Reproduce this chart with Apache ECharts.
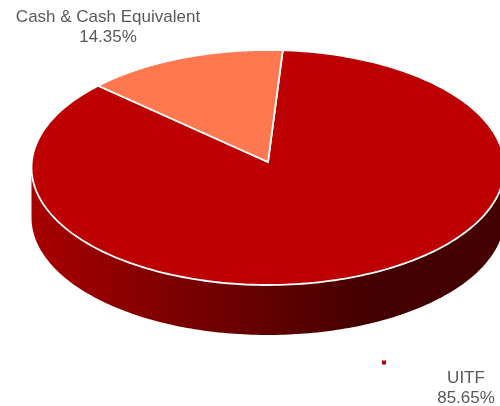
<!DOCTYPE html>
<html>
<head>
<meta charset="utf-8">
<style>html,body{margin:0;padding:0;background:#fff}#c{width:500px;height:406px}</style>
<script src="https://cdn.jsdelivr.net/npm/echarts@6/dist/echarts.min.js"></script>
</head>
<body>
<div id="c"></div>
<script>
var categories = ['Cash & Cash Equivalent', 'UITF'];
var shares = [14.35, 85.65];

var colors = ['#ff7850', '#bd0000'];
var labelPos = [[108, 27.5], [466, 388.5]];
var startDeg = -47.9;
var cx = 268, cy = 167.5, rx = 236.5, ry = 117.5, apexDrop = 5.5, depth = 50;

function rimPoint(deg) {
  var a = deg * Math.PI / 180, s = Math.sin(a), c = Math.cos(a), d = apexDrop / ry;
  var b = d * c;
  var t = -b + Math.sqrt(b * b + 1 - d * d);
  return [cx + rx * t * s, cy - d * ry + ry * (-t * c)];
}
function ellipsePoint(deg) {
  var a = deg * Math.PI / 180;
  return [cx + rx * Math.sin(a), cy - ry * Math.cos(a)];
}
var total = shares.reduce(function (p, v) { return p + v; }, 0);

function renderSlice(params, api) {
  var i = params.dataIndex, before = 0;
  for (var k = 0; k < i; k++) before += shares[k];
  var a0 = startDeg + before / total * 360;
  var a1 = a0 + api.value(0) / total * 360;
  var pts = [[cx, cy - apexDrop]];
  for (var n = 0; n <= 240; n++) pts.push(rimPoint(a0 + (a1 - a0) * n / 240));
  var children = [];
  if (i === 0) {
    var wall = [];
    for (var w = 90; w <= 270; w += 1) wall.push(ellipsePoint(w));
    for (var w2 = 270; w2 >= 90; w2 -= 1) {
      var p = ellipsePoint(w2);
      wall.push([p[0], p[1] + depth]);
    }
    children.push({
      type: 'polygon', shape: { points: wall }, z2: 1,
      style: {
        fill: new echarts.graphic.LinearGradient(cx - rx, 0, 365, 0, [
          { offset: 0, color: '#a80000' },
          { offset: 1, color: '#440000' }
        ], true)
      }
    });
  }
  children.push({
    type: 'polygon', shape: { points: pts }, z2: i === 0 ? 4 : 3,
    style: { fill: colors[i], stroke: '#fff', lineWidth: 1.8, lineJoin: 'miter' }
  });
  children.push({
    type: 'text', z2: 6, x: labelPos[i][0], y: labelPos[i][1],
    style: {
      text: categories[i] + '\n' + api.value(0).toFixed(2) + '%',
      fill: '#595959', font: '17px "Liberation Sans"', align: 'center',
      verticalAlign: 'middle', lineHeight: 20
    }
  });
  if (i === 1) {
    children.push({
      type: 'rect', z2: 6, shape: { x: 382, y: 360.5, width: 4, height: 4 },
      style: { fill: colors[1] }
    });
  }
  return { type: 'group', children: children };
}

var chart = echarts.init(document.getElementById('c'), null, { renderer: 'canvas', width: 500, height: 406 });
chart.setOption({
  animation: false,
  backgroundColor: '#fff',
  series: [{
    type: 'custom',
    coordinateSystem: 'none',
    renderItem: renderSlice,
    data: shares.map(function (v, i) { return { name: categories[i], value: [v] }; })
  }]
});
</script>
</body>
</html>
